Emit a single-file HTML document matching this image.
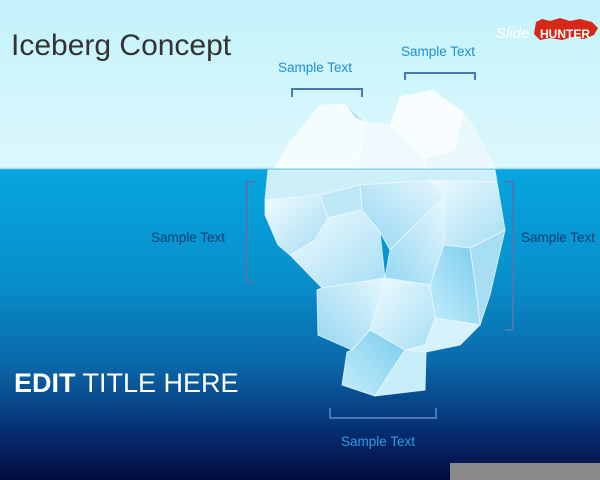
<!DOCTYPE html>
<html><head><meta charset="utf-8"><style>
html,body{margin:0;padding:0;width:600px;height:480px;overflow:hidden}
svg{display:block}
text{font-family:"Liberation Sans",sans-serif}
</style></head><body>
<svg width="600" height="480" viewBox="0 0 600 480" xmlns="http://www.w3.org/2000/svg">
<defs>
<linearGradient id="sky" x1="0" y1="0" x2="0" y2="1"><stop offset="0" stop-color="#c4f2fb"/><stop offset="1" stop-color="#dcf8fc"/></linearGradient>
<linearGradient id="sea" x1="0" y1="0" x2="0" y2="1">
<stop offset="0" stop-color="#06a6e0"/><stop offset="0.35" stop-color="#0890cc"/><stop offset="0.62" stop-color="#0a6aab"/><stop offset="0.85" stop-color="#072c70"/><stop offset="1" stop-color="#030a3c"/></linearGradient>
<linearGradient id="ice" x1="0" y1="0" x2="1" y2="1"><stop offset="0" stop-color="#f0fbfe"/><stop offset="1" stop-color="#a6def4"/></linearGradient>
<linearGradient id="ice2" x1="1" y1="0" x2="0" y2="1"><stop offset="0" stop-color="#e6f7fd"/><stop offset="1" stop-color="#94d6f2"/></linearGradient>
<linearGradient id="ice3" x1="0" y1="1" x2="1" y2="0"><stop offset="0" stop-color="#c4edfa"/><stop offset="1" stop-color="#7accee"/></linearGradient>
</defs>
<rect width="600" height="168" fill="url(#sky)"/>
<rect y="168" width="600" height="312" fill="url(#sea)"/>
<line x1="0" y1="168.5" x2="600" y2="168.5" stroke="#9edcf2" stroke-width="1.5"/>
<g stroke="#ffffff" stroke-width="0.8" stroke-opacity="0.7">
<polygon points="290,142 320,105 345,104 366,122 357,168 275,168" fill="#f4fcfe"/>
<polygon points="366,122 390,125 400,135 425,158 425,168 357,168" fill="#eefafd"/>
<polygon points="390,125 400,97 432,90 463,112 455,150 425,158 400,135" fill="#f8feff"/>
<polygon points="432,90 463,112 445,100" fill="#b4e6f2"/>
<polygon points="345,104 366,122 355,118" fill="#b8e4ee"/>
<polygon points="463,112 475,130 490,160 495,168 425,168 425,158 455,150" fill="#eaf8fc"/>
</g>
<g stroke="#e8f8fe" stroke-width="1" stroke-opacity="0.8">
<polygon points="268,170 495,170 497,182 430,180 360,185 320,195 265,200" fill="#cdeff9"/>
<polygon points="265,200 320,195 328,218 315,240 290,255 278,245 265,215" fill="url(#ice)"/>
<polygon points="320,195 360,185 362,210 328,218" fill="#bfe8f7"/>
<polygon points="360,185 430,180 444,197 390,250 380,232 362,210" fill="url(#ice2)"/>
<polygon points="328,218 362,210 380,232 385,278 322,288 290,255 315,240" fill="url(#ice)"/>
<polygon points="430,180 497,182 505,230 470,248 444,245 444,197" fill="url(#ice)"/>
<polygon points="444,197 444,245 430,285 385,278 390,250" fill="url(#ice2)"/>
<polygon points="470,248 505,230 490,295 480,325 475,282" fill="#a8def4"/>
<polygon points="444,245 470,248 475,282 480,325 435,318 430,285" fill="url(#ice3)"/>
<polygon points="385,278 430,285 435,318 425,345 405,350 370,330" fill="url(#ice)"/>
<polygon points="322,288 385,278 370,330 352,350 318,335 317,290" fill="url(#ice2)"/>
<polygon points="435,318 480,325 460,345 426,352 405,350 425,345" fill="#d6f2fb"/>
<polygon points="352,350 370,330 405,350 375,396 342,385 347,352" fill="url(#ice3)"/>
<polygon points="405,350 426,352 425,390 375,396" fill="#c8eefa"/>
</g>
<g fill="none" stroke="#4a78b0" stroke-width="2">
<path d="M292,97 V89 H362 V97"/>
<path d="M405,80 V73 H475 V80"/>
<path d="M255,182 H247 V282 H255"/>
<path d="M505,182 H513 V330 H505"/>
<path d="M330,408 V418 H436 V408"/>
</g>
<text x="11" y="55" font-size="30" fill="#333">Iceberg Concept</text>
<text x="278" y="72" font-size="13.5" fill="#1e90d0">Sample Text</text>
<text x="401" y="56" font-size="13.5" fill="#1e90d0">Sample Text</text>
<text x="151" y="242" font-size="13.5" fill="#0f3c6e">Sample Text</text>
<text x="521" y="242" font-size="13.5" fill="#0f3c6e">Sample Text</text>
<text x="341" y="446" font-size="13.5" fill="#2aa0e0">Sample Text</text>
<text x="14" y="392" font-size="27" fill="#ffffff"><tspan font-weight="bold">EDIT</tspan> TITLE HERE</text>
<text x="496" y="38" font-size="15" font-style="italic" fill="#ffffff">Slide</text>
<path d="M536,22 l6,-3 l8,2 l10,-3 l10,3 l10,-2 l12,3 l6,6 l-4,7 l-10,4 l-12,-2 l-10,3 l-12,-2 l-10,2 l-6,-6 z" fill="#d42818"/>
<text x="540" y="38" font-size="12" font-weight="bold" fill="#ffffff">HUNTER</text>
<rect x="450" y="463" width="150" height="17" fill="#8a8a8a"/>
</svg>
</body></html>
